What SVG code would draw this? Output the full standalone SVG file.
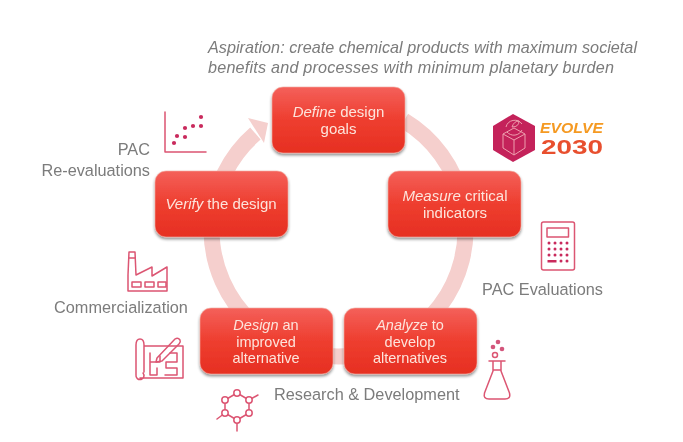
<svg xmlns="http://www.w3.org/2000/svg" width="683" height="442" viewBox="0 0 683 442">
<style>
text{font-family:"Liberation Sans",Arial,sans-serif}
.g{fill:#7b7b7b;font-size:16.3px}
.a{fill:#7b7b7b;font-size:16.2px;font-style:italic}
.w{fill:#fde4dc;font-size:15px;text-anchor:middle}
.t{font-size:14.5px}
.i{font-style:italic}
.b{fill:url(#red);stroke:#f3b0a4;stroke-width:.6;filter:url(#sh)}
.p{fill:none;stroke:#dc5673;stroke-width:1.5;stroke-linecap:round;stroke-linejoin:round}
.d{fill:#c92a5c}
.e{fill:none;stroke:#eea0ae;stroke-width:1}
</style>
<defs>
<linearGradient id="red" x1="0" y1="0" x2="0" y2="1"><stop offset="0" stop-color="#f4605a"/><stop offset=".5" stop-color="#ee3e2f"/><stop offset="1" stop-color="#e62f22"/></linearGradient>
<filter id="sh" x="-10%" y="-10%" width="120%" height="125%"><feGaussianBlur in="SourceAlpha" stdDeviation="1.4"/><feOffset dy="1.5"/><feComponentTransfer><feFuncA type="linear" slope=".45"/></feComponentTransfer><feMerge><feMergeNode/><feMergeNode in="SourceGraphic"/></feMerge></filter>
<filter id="soft"><feGaussianBlur stdDeviation=".4"/></filter>
</defs>
<rect width="683" height="442" fill="#fff"/>
<g filter="url(#soft)">
<g id="connectors">
<path d="M404 120.700A127 127 0 1 1 255.400 133.500" fill="none" stroke="#f5cfcd" stroke-width="16"/>
<polygon points="248,118 268,123 264,143" fill="#f5cfcd"/>
</g>
<g id="aspiration"><text class="a" x="208" y="53" textLength="429">Aspiration: create chemical products with maximum societal</text><text class="a" x="208" y="73" textLength="406">benefits and processes with minimum planetary burden</text></g>
<g id="define"><rect class="b" x="272" y="87" width="133" height="66" rx="11"/><text class="w" x="338.500" y="117"><tspan class="i">Define</tspan> design</text><text class="w" x="338.500" y="134">goals</text></g>
<g id="measure"><rect class="b" x="388" y="171" width="133" height="66" rx="11"/><text class="w" x="455" y="201"><tspan class="i">Measure</tspan> critical</text><text class="w" x="455" y="218">indicators</text></g>
<g id="analyze"><rect class="b" x="344" y="308" width="133" height="66" rx="11"/><text class="w t" x="410" y="330"><tspan class="i">Analyze</tspan> to</text><text class="w t" x="410" y="346.700">develop</text><text class="w t" x="410" y="363.400">alternatives</text></g>
<g id="design"><rect class="b" x="200" y="308" width="133" height="66" rx="11"/><text class="w t" x="266" y="330"><tspan class="i">Design</tspan> an</text><text class="w t" x="266" y="346.700">improved</text><text class="w t" x="266" y="363.400">alternative</text></g>
<g id="verify"><rect class="b" x="155" y="171" width="133" height="66" rx="11"/><text class="w" x="221" y="209"><tspan class="i">Verify</tspan> the design</text></g>
<g id="re-evaluations"><text class="g" x="150" y="155" text-anchor="end">PAC</text><text class="g" x="150" y="176" text-anchor="end">Re-evaluations</text>
<path class="p" d="M165 112V152H206"/>
<g class="d"><circle cx="174" cy="143" r="2.100"/><circle cx="177" cy="136" r="2.100"/><circle cx="185" cy="137" r="2.100"/><circle cx="185" cy="128" r="2.100"/><circle cx="193" cy="126" r="2.100"/><circle cx="201" cy="126" r="2.100"/><circle cx="201" cy="117" r="2.100"/></g></g>
<g id="evolve">
<polygon points="513,114 535,126 535,150 513,162 493,150 493,126" fill="#c4215a"/>
<path class="e" d="M503 134L514 128 525 134V148L514 155 503 148ZM503 134L514 140 525 134M514 140V155"/>
<path class="e" d="M506 127A9 9 0 0 1 522 124M522 130A9 9 0 0 1 507 132M512 127Q514 121 519 121Q519 127 512 127"/>
<text x="540" y="133" font-size="15" font-weight="700" font-style="italic" fill="#f59a23" textLength="63" lengthAdjust="spacingAndGlyphs">EVOLVE</text>
<text x="541" y="154" font-size="20" font-weight="700" fill="#e8502f" textLength="62" lengthAdjust="spacingAndGlyphs">2030</text></g>
<g id="pac-evaluations"><text class="g" x="482" y="295">PAC Evaluations</text>
<rect class="p" x="541.500" y="222" width="33" height="48" rx="2"/><rect class="p" x="547" y="228" width="21.500" height="9"/>
<g class="d"><circle cx="549" cy="243" r="1.500"/><circle cx="555" cy="243" r="1.500"/><circle cx="561" cy="243" r="1.500"/><circle cx="567" cy="243" r="1.500"/><circle cx="549" cy="249" r="1.500"/><circle cx="555" cy="249" r="1.500"/><circle cx="561" cy="249" r="1.500"/><circle cx="567" cy="249" r="1.500"/><circle cx="549" cy="255" r="1.500"/><circle cx="555" cy="255" r="1.500"/><circle cx="561" cy="255" r="1.500"/><circle cx="567" cy="255" r="1.500"/><circle cx="561" cy="261" r="1.500"/><circle cx="567" cy="261" r="1.500"/><rect x="547.500" y="260" width="9" height="2.500"/></g></g>
<g id="commercialization"><text class="g" x="54" y="313">Commercialization</text>
<path class="p" d="M128 291V275L129 252H135L136 275L152 267V276L167 267V291ZM129 258H135"/>
<path class="p" d="M132 287v-5h9v5zM145 287v-5h9v5zM158 287v-5h8v5z"/></g>
<g id="blueprint"><path class="p" d="M143 373A4 4 0 1 1 136 375V345Q136 339 140 339Q144 339 144 345V372M144 346H183V378H140"/>
<path class="p" d="M150 353V375H157V368M150 362H160V356M170 353H177V362H166V368H177V375H165"/>
<path class="p" d="M157 358L175 339Q178 337 180 340Q181 342 179 344L162 361 156 362Z"/></g>
<g id="molecule"><path class="p" d="M237 393L249 400V413L237 420L225 413V400ZM249 400L258 395M225 413L217 419M237 420V431"/>
<g fill="#fff" stroke="#dc5673" stroke-width="1.500"><circle cx="237" cy="393" r="3.200"/><circle cx="249" cy="400" r="3.200"/><circle cx="249" cy="413" r="3.200"/><circle cx="237" cy="420" r="3.200"/><circle cx="225" cy="413" r="3.200"/><circle cx="225" cy="400" r="3.200"/></g></g>
<text id="rd" class="g" x="274" y="400">Research &amp; Development</text>
<g id="flask"><path class="p" d="M489 361H505M493 361V371L484.500 393Q483 399 489 399H505Q511 399 509.500 393L501 371V361M493 370H501"/>
<circle class="p" cx="495" cy="355" r="2.500"/><g class="d" opacity=".8"><circle cx="493" cy="347" r="2.300"/><circle cx="502" cy="349" r="2.300"/><circle cx="498" cy="342" r="2.300"/></g></g>
</g>
</svg>
